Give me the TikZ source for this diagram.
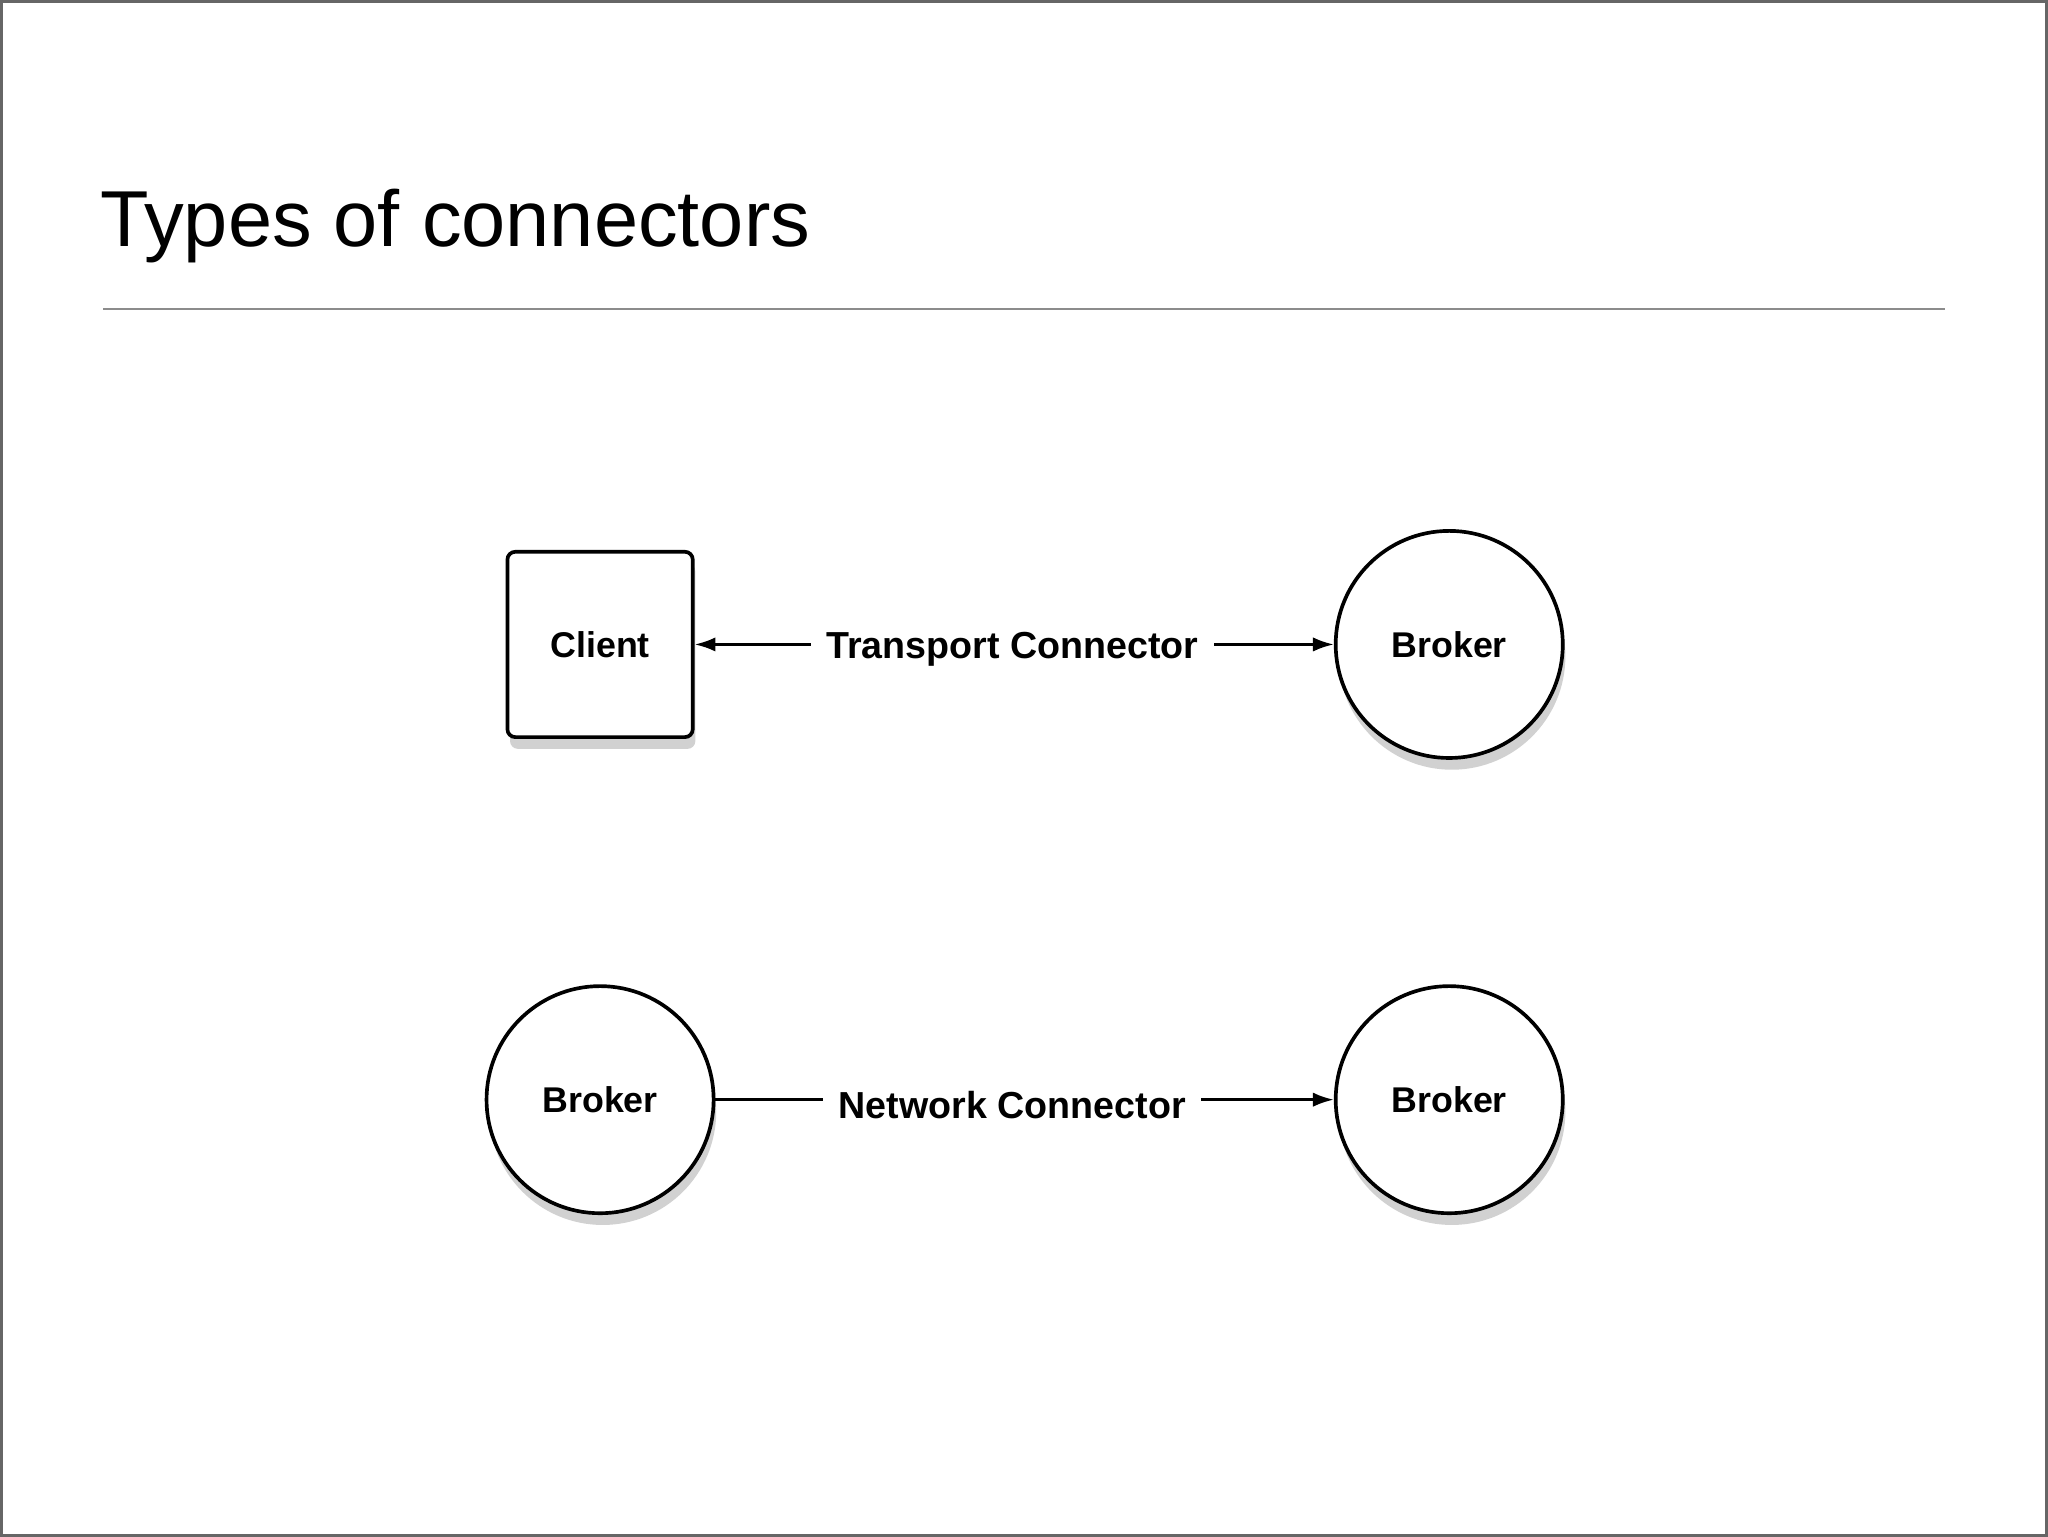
\documentclass[tikz,border=0pt]{standalone}
\usepackage{fontspec}
\setmainfont{Liberation Sans}
\usetikzlibrary{shadows,arrows.meta}
\begin{document}
\begin{tikzpicture}[x=0.01cm,y=-0.01cm,
  sh/.style={drop shadow={opacity=0.3,shadow xshift=0.02cm,shadow yshift=-0.09cm,fill=black!60}},
  brk/.style={circle,draw,line width=0.8pt,fill=white,minimum size=1.74cm,inner sep=0pt,sh,font=\fontsize{7.8}{9}\selectfont\bfseries},
  cli/.style={rectangle,rounded corners=0.06cm,draw,line width=0.8pt,fill=white,minimum size=1.42cm,inner sep=0pt,sh,font=\fontsize{7.8}{9}\selectfont\bfseries},
  lab/.style={fill=white,inner xsep=0.12cm,font=\fontsize{8.2}{10}\selectfont\bfseries},
  conn/.style={line width=0.6pt,-{Latex[length=0.16cm,width=0.11cm]}}]
\draw[black!60,line width=0.6pt] (0,0) rectangle (1568,1176);
\node[anchor=base west,inner sep=0pt,font=\fontsize{17.3}{20}\selectfont] (title) at (75,188) {Types of connectors};
\draw[black!45,line width=0.5pt] (78,236) coordinate (l1) -- (1490,236) coordinate (l2);
\node[cli] (client) at (459,493) {Client};
\node[brk] (b1) at (1110,493) {Broker};
\node[brk] (b2) at (459,842) {Broker};
\node[brk] (b3) at (1110,842) {Broker};
\draw[conn,{Latex[length=0.16cm,width=0.11cm]}-{Latex[length=0.16cm,width=0.11cm]}] (client) -- (b1);
\node[lab] (t1) at (775,497) {Transport Connector};
\draw[conn] (b2) -- (b3);
\node[lab] (t2) at (775,846) {Network Connector};
\end{tikzpicture}
\end{document}
